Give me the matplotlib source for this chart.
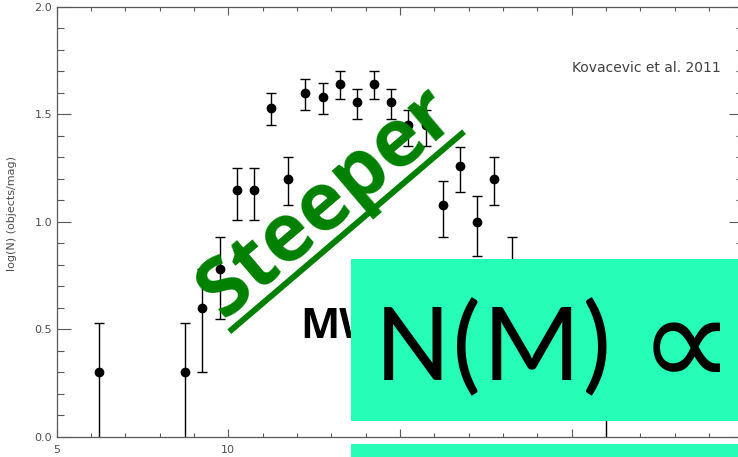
import matplotlib
matplotlib.use("Agg")
import matplotlib.pyplot as plt
import matplotlib.patches as mpatches
import matplotlib.lines as mlines
from matplotlib.ticker import MultipleLocator, FormatStrFormatter

# magnitude bins and log counts
mag = [6.25, 8.75, 9.25, 9.75, 10.25, 10.75, 11.25, 11.75, 12.25, 12.75, 13.25,
       13.75, 14.25, 14.75, 15.25, 15.75, 16.25, 16.75, 17.25, 17.75, 18.25, 21.0]
logn = [0.30, 0.30, 0.60, 0.78, 1.15, 1.15, 1.53, 1.20, 1.60, 1.58, 1.64,
        1.56, 1.64, 1.56, 1.45, 1.45, 1.08, 1.26, 1.00, 1.20, 0.78, 0.30]
err_hi = [0.53, 0.53, 0.78, 0.93, 1.25, 1.25, 1.60, 1.30, 1.665, 1.645, 1.70,
          1.62, 1.70, 1.62, 1.52, 1.52, 1.19, 1.35, 1.12, 1.30, 0.93, 0.53]
err_lo = [-0.23, -0.23, 0.30, 0.55, 1.01, 1.01, 1.45, 1.08, 1.52, 1.50, 1.57,
          1.48, 1.57, 1.48, 1.355, 1.355, 0.93, 1.14, 0.84, 1.08, 0.55, -0.23]

W, H = 738, 457
BOLD = "Open Sans"
REG = "Carlito"


def fx(px):
    return px / W


def fy(py):
    return 1 - py / H


fig = plt.figure(figsize=(W / 100, H / 100), dpi=100)
ax = fig.add_axes([fx(56.5), fy(436.7), (743.3 - 56.5) / W, (436.7 - 7) / H])

yerr = [[y - lo for y, lo in zip(logn, err_lo)], [hi - y for y, hi in zip(logn, err_hi)]]
ax.errorbar(mag, logn, yerr=yerr, fmt="o", color="black", ms=6, elinewidth=1,
            capsize=3.5, capthick=1, ecolor="black")

ax.set_xlim(5, 25)
ax.set_ylim(0, 2)
ax.xaxis.set_major_locator(MultipleLocator(5))
ax.xaxis.set_minor_locator(MultipleLocator(1))
ax.yaxis.set_major_locator(MultipleLocator(0.5))
ax.yaxis.set_minor_locator(MultipleLocator(0.1))
ax.yaxis.set_major_formatter(FormatStrFormatter("%.1f"))

axcol = "0.35"
for s in ax.spines.values():
    s.set_color(axcol)
    s.set_linewidth(0.9)
ax.tick_params(which="both", direction="in", top=True, right=True, color=axcol,
               width=0.8, labelsize=8, labelcolor="0.3")
ax.tick_params(axis="x", which="major", length=6, pad=6)
ax.tick_params(axis="x", which="minor", length=3)
ax.tick_params(axis="y", which="major", length=10, pad=3)
ax.tick_params(axis="y", which="minor", length=5)
ax.set_ylabel("log(N) (objects/mag)", fontsize=8, color="0.3")
ax.yaxis.set_label_coords(-0.058, 0.52)

fig.text(fx(571.7), fy(67.7), "Kovacevic et al. 2011", fontsize=10, color="0.25",
         ha="left", va="center")

# annotations on top
green = "#008000"
fig.text(fx(222.5), fy(320), "Steeper", family=BOLD, fontweight="bold",
         fontsize=58, color=green, rotation=40.4, ha="left", va="baseline",
         rotation_mode="anchor", zorder=4)
fig.add_artist(mlines.Line2D([fx(229.3), fx(464)], [fy(331.7), fy(131.7)],
                             color=green, lw=4.3, solid_capstyle="butt", zorder=4))

fig.text(fx(300), fy(338), "MW", family=BOLD, fontweight="bold", fontsize=30,
         color="black", ha="left", va="baseline", zorder=1)

box_col = "#26fdb6"
fig.add_artist(mpatches.Rectangle((fx(351), fy(420.7)), fx(740) - fx(351),
                                  (420.7 - 259) / H, facecolor=box_col,
                                  edgecolor="none", zorder=2))
fig.add_artist(mpatches.Rectangle((fx(351), fy(460)), fx(740) - fx(351),
                                  (460 - 444) / H, facecolor=box_col,
                                  edgecolor="none", zorder=2))

fig.text(fx(376), fy(380), "N(M)", family=REG, fontsize=82, color="black",
         ha="left", va="baseline", zorder=3)
fig.text(fx(686), fy(350), "\u221d", family="DejaVu Sans", fontsize=96,
         color="black", ha="center", va="center", zorder=3)

fig.savefig("out.png", dpi=100)
